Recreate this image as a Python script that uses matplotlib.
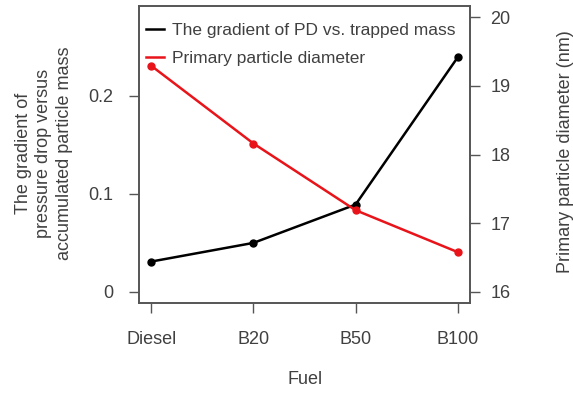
import numpy as np
import matplotlib
matplotlib.use("Agg")
import matplotlib.pyplot as plt

# data
fuels = ["Diesel", "B20", "B50", "B100"]
gradient = [0.031, 0.050, 0.089, 0.239]
diameter = [19.29, 18.16, 17.19, 16.58]

plt.rcParams["font.family"] = ["Liberation Sans", "DejaVu Sans"]
txt = "#404040"
edge = "#555555"

fig = plt.figure(figsize=(5.73, 3.94), dpi=100)
ax = fig.add_axes([139/573, 1-303/394, (470-139)/573, (303-6)/394])
ax2 = ax.twinx()

x = np.arange(1, len(fuels)+1)
l1, = ax.plot(x, gradient, color="black", lw=1.8, marker="o", ms=5, zorder=3)
l2, = ax2.plot(x, diameter, color="#e8141a", lw=1.8, marker="o", ms=5, zorder=3)

ax.set_xlim(0.88, 4.12)
ax.set_ylim(-0.0112, 0.2912)
ax2.set_ylim(15.84, 20.16)

ax.set_xticks(x)
ax.set_xticklabels(fuels)
ax.set_yticks([0, 0.1, 0.2])
ax.set_yticklabels(["0", "0.1", "0.2"])
ax2.set_yticks([16, 17, 18, 19, 20])

for a in (ax, ax2):
    for s in a.spines.values():
        s.set_color(edge)
        s.set_linewidth(1.2)
ax.tick_params(axis="y", length=7.5, width=1, color=edge, pad=11, labelsize=13, labelcolor=txt)
ax.tick_params(axis="x", length=7.5, width=1, color=edge, pad=13, labelsize=13, labelcolor=txt)
ax2.tick_params(axis="y", length=7.5, width=1, color=edge, pad=7, labelsize=13, labelcolor=txt)

fig.text(305/573, 1-380/394, "Fuel", ha="center", va="center", fontsize=13, color=txt)
fig.text(44/573, 1-153/394, "The gradient of\npressure drop versus\naccumulated particle mass",
         ha="center", va="center", rotation=90, fontsize=13, color=txt, linespacing=1.25)
fig.text(565/573, 1-152/394, "Primary particle diameter (nm)", ha="center", va="center",
         rotation=90, fontsize=13, color=txt)

ax2.legend([l1, l2], ["The gradient of PD vs. trapped mass", "Primary particle diameter"],
           loc="upper left", bbox_to_anchor=(-0.015, 0.985), frameon=False, fontsize=12.5,
           handlelength=1.0, handletextpad=0.5, labelspacing=0.75, borderaxespad=0.3,
           labelcolor=txt, markerscale=0)

fig.savefig("out.png", dpi=100)
